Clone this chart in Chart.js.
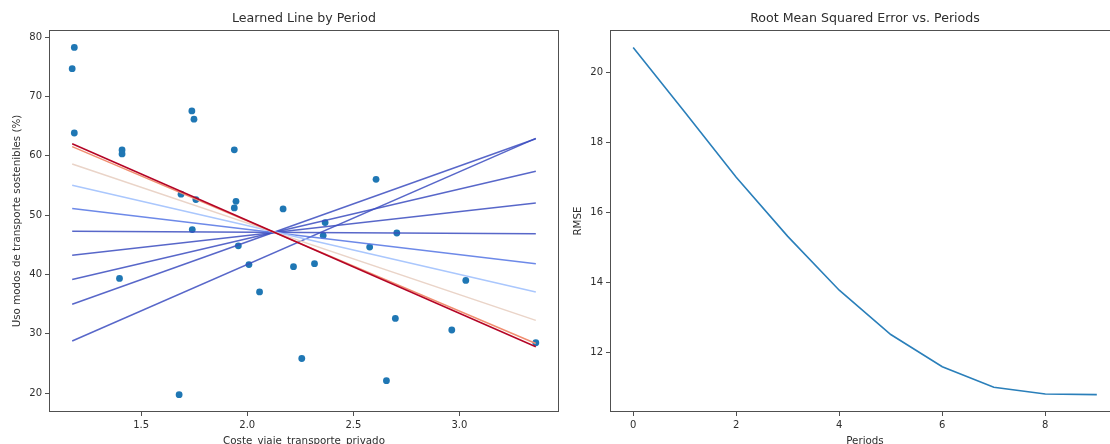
<!DOCTYPE html>
<html lang="es">
<head>
  <meta charset="UTF-8" />
  <title>Learned Line by Period</title>
  <script src="https://cdn.jsdelivr.net/npm/chart.js"></script>
  <style>
    body { margin: 0; background: #fff; overflow: hidden; width: 1110px; height: 444px; position: relative; }
    canvas { position: absolute; top: 0; }
    #lineChart { left: 0; }
    #rmseChart { left: 560px; }
  </style>
</head>
<body>
  <canvas id="lineChart" width="560" height="452"></canvas>
  <canvas id="rmseChart" width="570" height="452"></canvas>
  <script>
    // muestra: coste viaje vs uso modos sostenibles
    const costX = [1.185, 1.175, 1.185, 1.41, 1.41, 1.739, 1.749, 1.939, 1.688, 1.758, 1.947, 1.939, 2.169, 2.607, 1.741, 2.367,
                   2.358, 2.705, 1.958, 2.577, 1.398, 2.008, 2.218, 2.317, 2.058, 3.03, 2.698, 2.964, 3.36, 2.257, 2.656, 1.679];
    const usoY = [78.28, 74.7, 63.85, 61.0, 60.33, 67.58, 66.18, 61.02, 53.55, 52.63, 52.33, 51.22, 51.05, 56.04, 47.57, 48.75,
                  46.56, 47.0, 44.84, 44.63, 39.35, 41.68, 41.32, 41.83, 37.07, 39.0, 32.61, 30.65, 28.5, 25.85, 22.12, 19.76];

    // learned line per period: y at min(x) and at max(x)
    const lineStartY = [28.79, 34.99, 39.17, 43.26, 47.28, 51.12, 55.05, 58.62, 61.55, 62.03];
    const lineEndY   = [62.95, 62.88, 57.42, 52.07, 46.88, 41.8, 37.07, 32.27, 28.38, 27.83];
    const lineColors = ['rgba(59,76,192,0.85)', 'rgba(59,76,192,0.85)', 'rgba(59,76,192,0.85)', 'rgba(59,76,192,0.85)',
                        'rgba(59,76,192,0.85)', 'rgba(93,124,230,0.9)', '#aac7fd', '#ead4c8', '#f18e70', '#b40426'];

    const periods = [0, 1, 2, 3, 4, 5, 6, 7, 8, 9];
    const rmse = [20.72, 18.87, 17.0, 15.31, 13.77, 12.5, 11.58, 10.99, 10.8, 10.78];

    const leftXTicks = [1.5, 2.0, 2.5, 3.0];
    const leftYTicks = [20, 30, 40, 50, 60, 70, 80];
    const rightXTicks = [0, 2, 4, 6, 8];
    const rightYTicks = [12, 14, 16, 18, 20];

    const txt = '#2e2e2e';
    const edge = '#505050';
    Chart.defaults.font.family = 'DejaVu Sans';
    Chart.defaults.font.size = 10;
    Chart.defaults.color = txt;

    // matplotlib style 5% margins
    function pad(arr) {
      const lo = Math.min(...arr), hi = Math.max(...arr);
      const m = (hi - lo) * 0.05;
      return { min: lo - m, max: hi + m };
    }

    const frame = {
      id: 'frame',
      afterDatasetsDraw(chart) {
        const a = chart.chartArea, c = chart.ctx;
        c.save();
        c.strokeStyle = edge;
        c.lineWidth = 1;
        c.strokeRect(Math.round(a.left) + 0.5, Math.round(a.top) + 0.5,
                     Math.round(a.right - a.left) - 1, Math.round(a.bottom - a.top) - 1);
        c.restore();
      }
    };

    function axis(ticks, fmt, title, width, height, titlePad) {
      return {
        type: 'linear',
        afterBuildTicks(s) { s.ticks = ticks.map(v => ({ value: v })); },
        afterFit(s) {
          if (width) s.width = width;
          if (height) s.height = height;
          s.paddingLeft = 0; s.paddingRight = 0; s.paddingTop = 0; s.paddingBottom = 0;
        },
        grid: { drawOnChartArea: false, tickLength: 4, color: edge },
        border: { display: false },
        ticks: { padding: 3, color: txt, callback: fmt, autoSkip: false, maxRotation: 0 },
        title: { display: true, text: title, color: txt, font: { size: 10.3 }, padding: titlePad }
      };
    }

    const xMin = Math.min(...costX), xMax = Math.max(...costX);
    const lineSets = lineStartY.map((y0, i) => ({
      type: 'scatter',
      data: [{ x: xMin, y: y0 }, { x: xMax, y: lineEndY[i] }],
      showLine: true,
      borderColor: lineColors[i],
      borderWidth: 1.5,
      pointRadius: 0,
      order: 10 - i
    }));

    const xr = pad(costX), yr = pad(usoY);
    const lx = axis(leftXTicks, v => v.toFixed(1), 'Coste_viaje_transporte_privado', 0, 40, { bottom: 4 });
    lx.min = xr.min; lx.max = xr.max;
    const ly = axis(leftYTicks, v => v, 'Uso modos de transporte sostenibles (%)', 49, 0, { top: 11 });
    ly.min = yr.min; ly.max = yr.max;

    new Chart(document.getElementById('lineChart'), {
      type: 'scatter',
      data: {
        datasets: [{
          data: costX.map((x, i) => ({ x: x, y: usoY[i] })),
          backgroundColor: '#1f77b4',
          borderWidth: 0,
          pointRadius: 3.4,
          order: 20
        }].concat(lineSets)
      },
      options: {
        responsive: false,
        animation: false,
        layout: { autoPadding: false, padding: { right: 1 } },
        plugins: {
          legend: { display: false },
          tooltip: { enabled: false },
          title: { display: true, text: 'Learned Line by Period', fullSize: false, color: txt,
                   font: { size: 12.6, weight: 'normal' }, padding: { top: 11.5, bottom: 3.4 } }
        },
        scales: { x: lx, y: ly }
      },
      plugins: [frame]
    });

    const pr = pad(periods), rr = pad(rmse);
    const rx = axis(rightXTicks, v => v, 'Periods', 0, 40, { bottom: 4 });
    rx.min = pr.min; rx.max = pr.max;
    const ry = axis(rightYTicks, v => v, 'RMSE', 50, 0, { top: 12 });
    ry.min = rr.min; ry.max = rr.max;

    new Chart(document.getElementById('rmseChart'), {
      type: 'line',
      data: {
        datasets: [{
          data: periods.map((p, i) => ({ x: p, y: rmse[i] })),
          borderColor: '#2a7fba',
          borderWidth: 1.6,
          pointRadius: 0,
          tension: 0
        }]
      },
      options: {
        responsive: false,
        animation: false,
        layout: { autoPadding: false, padding: { right: 10 } },
        plugins: {
          legend: { display: false },
          tooltip: { enabled: false },
          title: { display: true, text: 'Root Mean Squared Error vs. Periods', fullSize: false, color: txt,
                   font: { size: 12.6, weight: 'normal' }, padding: { top: 11.5, bottom: 3.4 } }
        },
        scales: { x: rx, y: ry }
      },
      plugins: [frame]
    });
  </script>
</body>
</html>
